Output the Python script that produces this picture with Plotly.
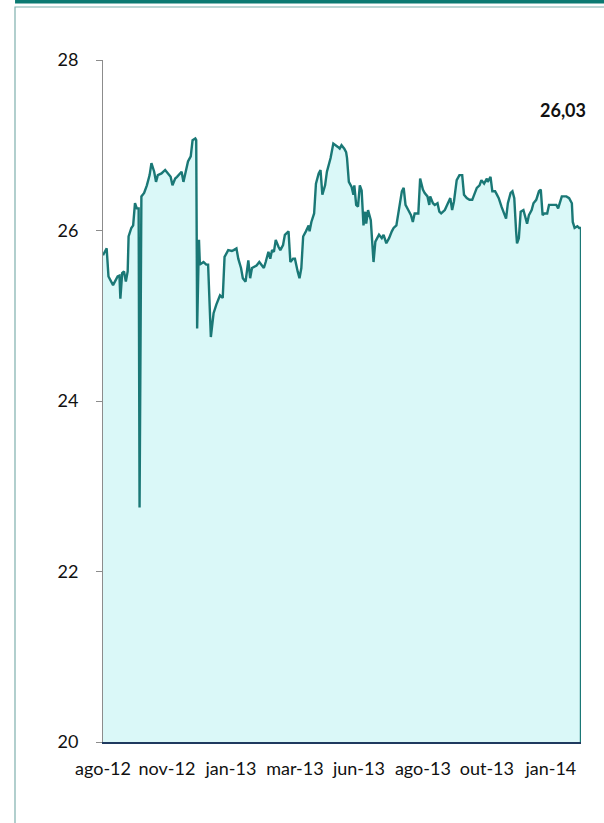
import plotly.graph_objects as go
import pandas as pd

start_date = "2012-08-31"
tick_step_days = 70
n_ticks = 8
month_abbr = ["jan", "fev", "mar", "abr", "mai", "jun", "jul", "ago", "set", "out", "nov", "dez"]

day_offsets = [
    0, 4, 6, 10, 11, 13, 16, 18, 19, 21,
    23, 25, 27, 28, 31, 33, 35, 37, 39, 40,
    42, 45, 48, 51, 53, 56, 58, 60, 64, 68,
    71, 74, 76, 79, 81, 84, 86, 88, 91, 93,
    96, 98, 101, 102, 103, 105, 106, 110, 113, 115,
    118, 121, 124, 128, 131, 133, 137, 141, 143, 146,
    148, 151, 153, 156, 159, 161, 163, 165, 168, 171,
    174, 176, 178, 181, 183, 185, 187, 189, 192, 194,
    197, 199, 203, 205, 208, 210, 213, 215, 217, 219,
    222, 225, 226, 228, 231, 233, 236, 238, 240, 243,
    245, 248, 249, 252, 255, 257, 259, 261, 264, 266,
    267, 269, 272, 274, 275, 277, 279, 281, 283, 285,
    287, 288, 290, 293, 296, 298, 300, 302, 305, 307,
    310, 313, 316, 318, 321, 324, 327, 329, 331, 334,
    337, 339, 341, 345, 347, 350, 352, 355, 357, 358,
    361, 363, 366, 368, 370, 374, 377, 380, 382, 384,
    387, 390, 393, 395, 398, 401, 404, 407, 409, 412,
    414, 417, 420, 421, 424, 426, 429, 431, 433, 436,
    439, 441, 443, 446, 448, 450, 452, 453, 455, 457,
    460, 462, 464, 466, 469, 471, 474, 477, 479, 481,
    483, 486, 488, 491, 493, 496, 498, 500, 502, 504,
    507, 510, 513, 514, 516, 519, 521, 523, 523,
]

values = [
    25.71, 25.79, 25.46, 25.38, 25.36, 25.40, 25.46, 25.47, 25.20, 25.50,
    25.52, 25.40, 25.52, 25.93, 26.03, 26.06, 26.32, 26.26, 26.26, 22.75,
    26.40, 26.44, 26.53, 26.65, 26.79, 26.69, 26.57, 26.65, 26.67, 26.71,
    26.67, 26.63, 26.53, 26.61, 26.63, 26.67, 26.69, 26.57, 26.73, 26.81,
    26.87, 27.06, 27.08, 27.06, 24.85, 25.89, 25.60, 25.63, 25.60, 25.60,
    24.75, 25.03, 25.13, 25.24, 25.21, 25.69, 25.77, 25.76, 25.77, 25.79,
    25.67, 25.56, 25.44, 25.40, 25.65, 25.44, 25.56, 25.57, 25.59, 25.63,
    25.59, 25.56, 25.63, 25.75, 25.67, 25.77, 25.75, 25.89, 25.81, 25.77,
    25.83, 25.95, 25.99, 25.63, 25.67, 25.67, 25.52, 25.44, 25.56, 25.93,
    25.99, 26.06, 25.99, 26.10, 26.20, 26.55, 26.67, 26.71, 26.42, 26.53,
    26.69, 26.79, 26.85, 27.02, 27.00, 26.98, 26.96, 27.00, 26.96, 26.92,
    26.85, 26.57, 26.51, 26.42, 26.53, 26.30, 26.28, 26.53, 26.47, 26.06,
    26.22, 26.08, 26.24, 26.12, 25.63, 25.87, 25.91, 25.95, 25.91, 25.95,
    25.85, 25.91, 25.99, 26.03, 26.06, 26.26, 26.46, 26.50, 26.30, 26.24,
    26.18, 26.10, 26.20, 26.20, 26.61, 26.48, 26.44, 26.40, 26.30, 26.40,
    26.32, 26.30, 26.32, 26.22, 26.20, 26.24, 26.32, 26.38, 26.24, 26.34,
    26.59, 26.65, 26.65, 26.42, 26.38, 26.36, 26.36, 26.46, 26.50, 26.53,
    26.59, 26.55, 26.61, 26.57, 26.63, 26.46, 26.46, 26.42, 26.38, 26.28,
    26.18, 26.14, 26.32, 26.44, 26.46, 26.38, 25.99, 25.85, 25.91, 26.22,
    26.24, 26.14, 26.08, 26.18, 26.24, 26.32, 26.36, 26.46, 26.48, 26.18,
    26.20, 26.20, 26.30, 26.30, 26.30, 26.30, 26.26, 26.34, 26.40, 26.40,
    26.40, 26.38, 26.32, 26.10, 26.03, 26.05, 26.03, 26.03, 0.0,
]

y_tick_values = [20, 22, 24, 26, 28]
y_range = [20, 28]

t0 = pd.Timestamp(start_date)
dates = [t0 + pd.Timedelta(days=d) for d in day_offsets]
tick_dates = [t0 + pd.Timedelta(days=tick_step_days * k) for k in range(n_ticks)]
tick_text = [f"{month_abbr[d.month - 1]}-{d.strftime('%y')}" for d in tick_dates]
last_label = f"{values[-2]:.2f}".replace(".", ",")

LINE = "#1a7876"
FILL = "#daf8f8"
FONT = "Lato"
FS = 18

fig = go.Figure()
fig.add_trace(go.Scatter(
    x=dates, y=values, mode="lines",
    line=dict(color=LINE, width=2.4),
    fill="tozeroy", fillcolor=FILL,
    hoverinfo="skip", showlegend=False,
))

fig.update_layout(
    width=604, height=823,
    margin=dict(l=103, r=23, t=60, b=81),
    paper_bgcolor="white", plot_bgcolor="white",
    font=dict(family=FONT, size=FS, color="#111111"),
    showlegend=False,
    xaxis=dict(
        type="date",
        range=[dates[0], dates[-1]],
        tickvals=tick_dates, ticktext=tick_text,
        ticks="", ticklabelstandoff=10,
        showline=True, linecolor="#1f3a5f", linewidth=1.5,
        showgrid=False, zeroline=False,
        tickfont=dict(family=FONT, size=FS, color="#111111"),
    ),
    yaxis=dict(
        range=y_range, tickvals=y_tick_values,
        ticks="outside", ticklen=6, tickcolor="#8c8c8c",
        ticklabelstandoff=14,
        showline=True, linecolor="#8c8c8c", linewidth=1,
        showgrid=False, zeroline=False,
        tickfont=dict(family=FONT, size=FS, color="#111111"),
    ),
    shapes=[
        dict(type="rect", xref="paper", yref="paper",
             x0=-0.184, x1=1.2, y0=1.083, y1=1.1,
             fillcolor="#0b7a72", line=dict(width=0), layer="above"),
        dict(type="rect", xref="paper", yref="paper",
             x0=-0.1841, x1=1.2, y0=-0.3, y1=1.0777,
             fillcolor="rgba(0,0,0,0)", line=dict(color="#7fb0ad", width=1.2),
             layer="below"),
    ],
    annotations=[
        dict(text=f"<b>{last_label}</b>", xref="paper", yref="paper",
             x=1.0146, y=0.927, xanchor="right", yanchor="middle",
             showarrow=False, font=dict(family=FONT, size=FS, color="#111111")),
    ],
)

fig.write_html("out.html", config={"displayModeBar": False},
               post_script="document.body.style.margin='0';")
